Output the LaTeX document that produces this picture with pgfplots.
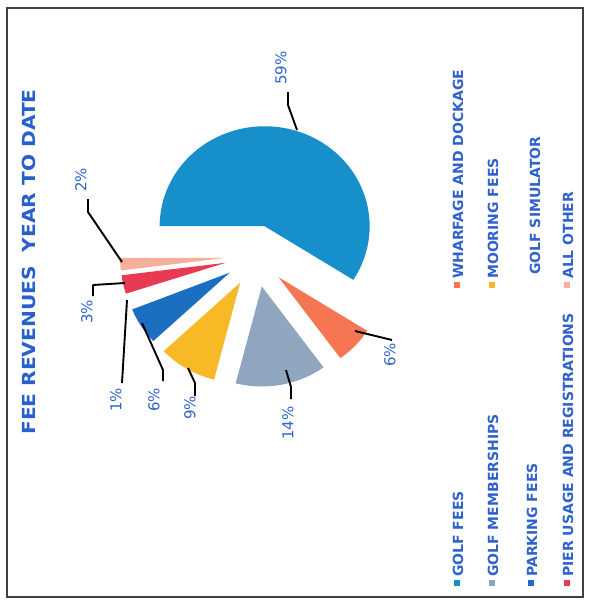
\documentclass[border=0pt]{standalone}
\usepackage{pgfplots}
\pgfplotsset{compat=1.18}
\usepackage{pgfplotstable}
\usepackage{fontspec}
\setmainfont{DejaVu Sans}

\definecolor{cGolf}{RGB}{22,143,203}
\definecolor{cWharf}{RGB}{246,118,84}
\definecolor{cMemb}{RGB}{143,166,190}
\definecolor{cMoor}{RGB}{247,186,38}
\definecolor{cPark}{RGB}{28,110,192}
\definecolor{cSim}{RGB}{255,255,255}
\definecolor{cPier}{RGB}{233,58,84}
\definecolor{cOther}{RGB}{246,176,154}
\definecolor{txtblue}{RGB}{48,98,204}
\definecolor{titleblue}{RGB}{40,96,204}

% shares of fee revenue, in drawing order (clockwise)
\pgfplotstableread{
share colour
59 cGolf
6  cWharf
14 cMemb
9  cMoor
6  cPark
1  cSim
3  cPier
2  cOther
}\feetable

% pie geometry (page units, y pointing down)
\def\Cx{256}\def\Cy{256}   % centre
\def\Ex{31}                % explosion offset
\def\Rx{105}\def\Ry{100}   % radii

% #1 share before this slice, #2 share, #3 colour
\newcommand\pieslice[3]{%
  \pgfmathsetmacro\sa{180+3.6*#1}%
  \pgfmathsetmacro\sb{180+3.6*(#1+#2)}%
  \pgfmathsetmacro\sm{(\sa+\sb)/2}%
  \pgfmathsetmacro\vx{\Cx+\Ex*cos(\sm)}%
  \pgfmathsetmacro\vy{\Cy+\Ex*sin(\sm)}%
  \edef\doslice{\noexpand\addplot[fill=#3, draw=none, domain=\sa:\sb, samples=80]
    ({\vx+\Rx*cos(x)},{\vy+\Ry*sin(x)}) -- (axis cs:\vx,\vy) -- cycle;}%
  \doslice
}

\newcommand\legkey[1]{\textcolor{#1}{\rule[0.2em]{6pt}{6pt}}\hspace{3pt}}

\begin{document}
\begin{tikzpicture}
\begin{axis}[
  width=589pt, height=608pt, scale only axis,
  xmin=0, xmax=589, ymin=0, ymax=608, y dir=reverse,
  axis lines=none, clip=false,
]
\path (axis cs:0,0) rectangle (axis cs:589,608);

\xdef\cum{0}
\pgfplotsinvokeforeach{0,...,7}{%
  \pgfplotstablegetelem{#1}{share}\of\feetable \let\val\pgfplotsretval
  \pgfplotstablegetelem{#1}{colour}\of\feetable \let\col\pgfplotsretval
  \pieslice{\cum}{\val}{\col}%
  \pgfmathsetmacro\newcum{\cum+\val}%
  \xdef\cum{\newcum}%
}

% leader lines
\pgfplotsset{leader/.style={black, line width=1.9pt, line join=round}}
\addplot[leader] coordinates {(297,130) (288,105) (288,92)};
\addplot[leader] coordinates {(355,331) (392,340)};
\addplot[leader] coordinates {(286,370) (291,387) (291,399)};
\addplot[leader] coordinates {(188,368) (195,383) (195,396)};
\addplot[leader] coordinates {(142,323) (163,370) (163,381)};
\addplot[leader] coordinates {(127,300) (122,383)};
\addplot[leader] coordinates {(125,283) (93,285) (93,296)};
\addplot[leader] coordinates {(122,262) (88,212) (88,199)};

% percentage labels
\begin{scope}[every node/.style={rotate=90, inner sep=0pt, text=txtblue,
    font=\fontsize{15}{17}\selectfont}]
\node at (axis cs:281,68) {59\%};
\node at (axis cs:390,355) {6\%};
\node at (axis cs:288,423) {14\%};
\node at (axis cs:190,408) {9\%};
\node at (axis cs:154,400) {6\%};
\node at (axis cs:116,400) {1\%};
\node at (axis cs:87,312) {3\%};
\node at (axis cs:81,180) {2\%};
\end{scope}

% title
\node[rotate=90, xscale=1.12, inner sep=0pt, text=titleblue,
  font=\bfseries\fontsize{18}{20}\selectfont] at (axis cs:29,262)
  {FEE REVENUES\hspace{0.7em}YEAR TO DATE};

% legend
\begin{scope}[every node/.style={rotate=90, anchor=west, inner sep=0pt,
    text=txtblue, font=\bfseries\fontsize{14}{16}\selectfont}]
\node at (axis cs:458,586) {\legkey{cGolf}GOLF FEES};
\node at (axis cs:493,586) {\legkey{cMemb}GOLF MEMBERSHIPS};
\node at (axis cs:532,586) {\legkey{cPark}PARKING FEES};
\node at (axis cs:568,586) {\legkey{cPier}PIER USAGE AND REGISTRATIONS};
\node at (axis cs:458,288) {\legkey{cWharf}WHARFAGE AND DOCKAGE};
\node at (axis cs:493,288) {\legkey{cMoor}MOORING FEES};
\node at (axis cs:535,275) {GOLF SIMULATOR};
\node at (axis cs:568,288) {\legkey{cOther}ALL OTHER};
\end{scope}

% frame
\draw[line width=1.2pt, black!75] (axis cs:7,8) rectangle (axis cs:583,597);
\end{axis}
\end{tikzpicture}
\end{document}
